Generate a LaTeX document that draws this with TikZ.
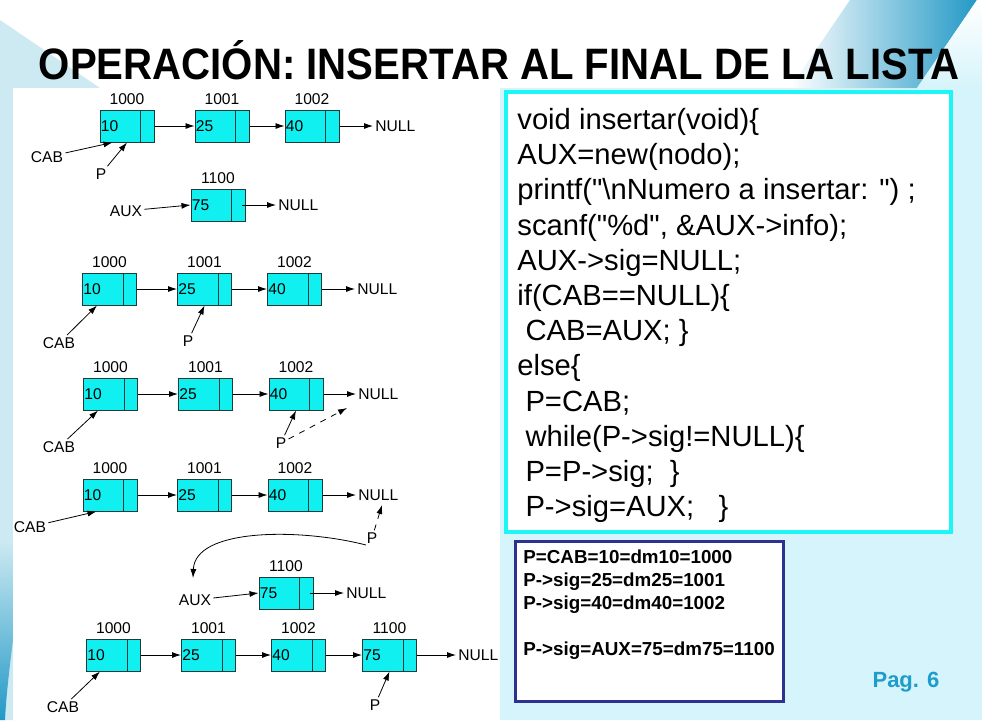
\documentclass[tikz,border=0pt]{standalone}
\usepackage{fontspec}
\setmainfont{Liberation Sans}
\newfontfamily\codigofont{Liberation Sans}
\usetikzlibrary{arrows.meta}
\definecolor{relleno}{HTML}{10F0F0}
\definecolor{borde}{HTML}{1E3A3A}
\definecolor{cian}{HTML}{1EF5F5}
\definecolor{marino}{HTML}{2E3190}
\definecolor{fondo}{HTML}{D6F4FB}
\definecolor{franja}{HTML}{CDEAF2}
\definecolor{azul}{HTML}{2399C6}
\definecolor{pagina}{HTML}{1E9CCB}
\tikzset{
  caja/.style={draw=borde, fill=relleno, line width=0.5pt, minimum width=27pt, minimum height=16pt, inner sep=0pt},
  dato/.style={anchor=west, inner sep=0.5pt, font=\fontsize{7.8}{9}\selectfont},
  txt/.style={inner sep=1pt, font=\fontsize{7.8}{9}\selectfont},
  flecha/.style={-{Latex[length=4.5pt,width=3pt]}, line width=0.4pt},
}
% one list node: name, x, y, value, address
\newcommand{\nodolista}[5]{%
  \node[caja] (#1) at (#2,#3) {};
  \draw[borde, line width=0.5pt] ([xshift=-7pt]#1.north east) -- ([xshift=-7pt]#1.south east);
  \node[dato] at (#1.west) {#4};
  \node[txt, anchor=south] at ([yshift=1pt]#1.north) {#5};
}
\begin{document}
\begin{tikzpicture}[x=0.5pt, y=-0.5pt]
\fill[white] (0,0) rectangle (982,720);
\useasboundingbox (0,0) rectangle (982,720);
% background of the slide
\fill[fondo] (500,88) rectangle (982,720);
\fill[franja] (0,20) -- (100,88) -- (13,88) -- (13,720) -- (0,720) -- cycle;
\shade[top color=franja, bottom color=azul] (0,540) -- (13,540) -- (13,640) .. controls (8,680) and (6,700) .. (5,720) -- (0,720) -- cycle;
\shade[left color=white, right color=azul] (850,0) -- (977,0) -- (917,88) -- (790,88) -- cycle;
\shade[top color=white, bottom color=fondo] (977,0) -- (982,0) -- (982,88) -- (917,88) -- cycle;
\fill[white] (13,88) rectangle (500,720);

\node[font=\bfseries\fontsize{22}{26}\selectfont, inner sep=0pt, xscale=0.913, anchor=base] (titulo) at (499,79) {OPERACIÓN: INSERTAR AL FINAL DE LA LISTA};

% row 1
\nodolista{a1}{127}{126}{10}{1000}
\nodolista{a2}{222}{126}{25}{1001}
\nodolista{a3}{312}{126}{40}{1002}
\node[txt, anchor=west] (n1) at (373,126) {NULL};
\draw[flecha] (a1.east) -- (a2.west);
\draw[flecha] (a2.east) -- (a3.west);
\draw[flecha] (a3.east) -- (n1.west);
\node[txt] (cab1) at (47,157) {CAB};
\node[txt] (p1) at (101,174) {P};
\draw[flecha] (cab1) -- ([xshift=6.5pt]a1.south west);
\draw[flecha] (p1) -- (a1.south);
\nodolista{x1}{218}{205}{75}{1100}
\node[txt, anchor=west] (m1) at (276,205) {NULL};
\node[txt] (aux1) at (126,211) {AUX};
\draw[flecha] ([xshift=-2pt]x1.east) -- (m1.west);
\draw[flecha] (aux1) -- (x1.west);

% row 2
\nodolista{b1}{109.5}{289}{10}{1000}
\nodolista{b2}{204.5}{289}{25}{1001}
\nodolista{b3}{294.5}{289}{40}{1002}
\node[txt, anchor=west] (n2) at (355,289) {NULL};
\draw[flecha] (b1.east) -- (b2.west);
\draw[flecha] (b2.east) -- (b3.west);
\draw[flecha] (b3.east) -- (n2.west);
\node[txt] (cab2) at (59,343) {CAB};
\node[txt] (p2) at (188,341) {P};
\draw[flecha] (cab2) -- ([xshift=7.5pt]b1.south west);
\draw[flecha] (p2) -- (b2.south);

% row 3
\nodolista{c1}{110.5}{394}{10}{1000}
\nodolista{c2}{205.5}{394}{25}{1001}
\nodolista{c3}{296}{394}{40}{1002}
\node[txt, anchor=west] (n3) at (356,394) {NULL};
\draw[flecha] (c1.east) -- (c2.west);
\draw[flecha] (c2.east) -- (c3.west);
\draw[flecha] (c3.east) -- (n3.west);
\node[txt] (cab3) at (59,447) {CAB};
\node[txt] (p3) at (281,443) {P};
\coordinate (q3) at (347,408);
\draw[flecha] (cab3) -- ([xshift=7.5pt]c1.south west);
\draw[flecha] (p3) -- (c3.south);
\draw[flecha, dashed] (p3) -- (q3);

% row 4
\nodolista{d1}{110}{495}{10}{1000}
\nodolista{d2}{204.5}{495}{25}{1001}
\nodolista{d3}{295}{495}{40}{1002}
\node[txt, anchor=west] (n4) at (356,495) {NULL};
\draw[flecha] (d1.east) -- (d2.west);
\draw[flecha] (d2.east) -- (d3.west);
\draw[flecha] (d3.east) -- (n4.west);
\node[txt] (cab4) at (30,527) {CAB};
\node[txt] (p4) at (372,538) {P};
\coordinate (q4) at (382,505);
\coordinate (r4) at (193,578);
\draw[flecha] (cab4) -- ([xshift=7pt]d1.south west);
\draw[flecha, dashed] (p4) -- (q4);
\draw[flecha] (366,545) .. controls (300,528) and (195,528) .. (r4);

% new node
\nodolista{x2}{286}{593}{75}{1100}
\node[txt, anchor=west] (m2) at (344,593) {NULL};
\node[txt] (aux2) at (195,600) {AUX};
\draw[flecha] ([xshift=-2pt]x2.east) -- (m2.west);
\draw[flecha] (aux2) -- (x2.west);

% row 5
\nodolista{e1}{113.5}{655}{10}{1000}
\nodolista{e2}{208.5}{655}{25}{1001}
\nodolista{e3}{298.5}{655}{40}{1002}
\nodolista{e4}{389.5}{655}{75}{1100}
\node[txt, anchor=west] (n5) at (456,655) {NULL};
\draw[flecha] (e1.east) -- (e2.west);
\draw[flecha] (e2.east) -- (e3.west);
\draw[flecha] (e3.east) -- (e4.west);
\draw[flecha] (e4.east) -- (n5.west);
\node[txt] (cab5) at (63,707) {CAB};
\node[txt] (p5) at (375,705) {P};
\draw[flecha] (cab5) -- ([xshift=7pt]e1.south west);
\draw[flecha] (p5) -- (e4.south);

% code
\node[draw=cian, fill=white, line width=2pt, minimum width=222.5pt, minimum height=220pt, inner sep=0pt] (codigo) at (728.5,312) {};
\node[anchor=north west, inner sep=0pt, align=left, font=\codigofont\fontsize{14.6}{17.6}\selectfont] (lineas) at (517,108) {%
void insertar(void)\{\\
AUX=new(nodo);\\
printf("\textbackslash nNumero a insertar: ") ;\\
scanf("\%d", \&AUX->info);\\
AUX->sig=NULL;\\
if(CAB==NULL)\{\\
\ CAB=AUX; \}\\
else\{\\
\ P=CAB;\\
\ while(P->sig!=NULL)\{\\
\ P=P->sig;\ \ \}\\
\ P->sig=AUX;\ \ \ \}};

\node[draw=marino, fill=white, line width=1.5pt, minimum width=134pt, minimum height=80pt, inner sep=0pt] (traza) at (649.5,621.5) {};
\node[anchor=north west, inner sep=0pt, align=left, font=\bfseries\fontsize{9.4}{11.5}\selectfont] (valores) at (523,549) {%
P=CAB=10=dm10=1000\\
P->sig=25=dm25=1001\\
P->sig=40=dm40=1002\\[11.5pt]
P->sig=AUX=75=dm75=1100};

\node[font=\bfseries\fontsize{11}{13}\selectfont, text=pagina] (pag) at (906,682) {Pag. 6};
\end{tikzpicture}
\end{document}
